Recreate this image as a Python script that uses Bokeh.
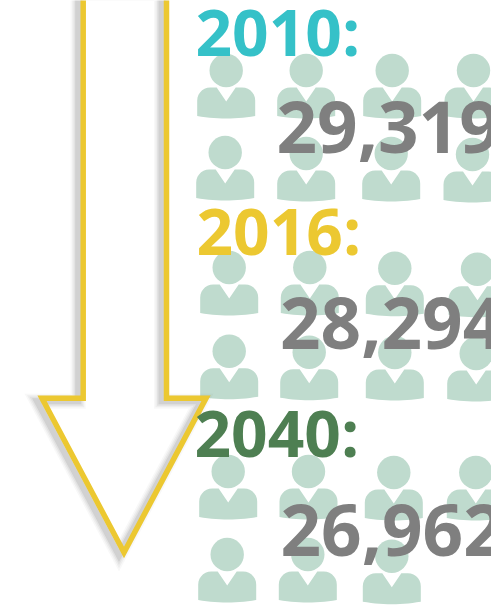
from bokeh.plotting import figure
from bokeh.embed import file_html
from bokeh.resources import INLINE
from bokeh.models import Range1d, ColumnDataSource
from bokeh.core.properties import value
import numpy as np

years = ["2010:", "2016:", "2040:"]
people = ["29,319", "28,294", "26,962"]
year_colors = ["#35C1C8", "#ECC831", "#4E7F52"]
head_x = [225.7, 305.7, 391.7, 473, 224.7, 305.7, 390.7, 472,
          228.7, 309.3, 394.3, 477, 228.7, 308.7, 394.3, 475.7,
          227.7, 308, 393.3, 475.3, 226.7, 307.3, 391.3]
head_y = [70, 70, 70, 70, 152, 153, 153, 154,
          267, 267, 267.7, 268.7, 350.7, 351.7, 352, 353,
          471, 471, 472, 472, 554, 554, 555.7]
label_x = [195, 196, 194]
label_y = [74, 273, 475]
count_x = [276, 279.5, 280]
count_y = [152.5, 348, 555.5]

arrow_x = [82.7, 82.7, 41.5, 123.5, 205.5, 166, 166]
arrow_y = [-10, 397.7, 397.7, 552, 397.7, 397.7, -10]

W, H = 491, 605
p = figure(width=W, height=H, output_backend="svg", toolbar_location=None,
           x_range=Range1d(0, W), y_range=Range1d(H, 0), min_border=0,
           outline_line_color=None, background_fill_color=None,
           border_fill_color=None)
p.axis.visible = False
p.grid.visible = False
p.styles = {"position": "fixed", "left": "0", "top": "0"}

def body(cx, cy):
    xs, ys = [], []
    hw, top = 29, cy + 17
    r = 13
    for a in np.linspace(180, 270, 8):
        xs.append(cx - hw + r + r * np.cos(np.radians(a)))
        ys.append(top + r + r * np.sin(np.radians(a)))
    xs += [cx - 9.5, cx, cx + 9.5]
    ys += [top, top + 14, top]
    for a in np.linspace(270, 360, 8):
        xs.append(cx + hw - r + r * np.cos(np.radians(a)))
        ys.append(top + r + r * np.sin(np.radians(a)))
    for t in np.linspace(1, -1, 15):
        xs.append(cx + hw * t)
        ys.append(cy + 45.5 + 2.5 * (1 - t * t))
    return xs, ys

bx, by = zip(*[body(x, y) for x, y in zip(head_x, head_y)])
p.patches(list(bx), list(by), fill_color="#BFDBCE", line_color=None)
p.circle(head_x, head_y, radius=16.7, fill_color="#BFDBCE", line_color=None)

# soft shadow built from stacked translucent strokes; the arrow itself is hollow
sx = [v - 5 for v in arrow_x] + [arrow_x[0] - 5]
sy = [v + 3 for v in arrow_y] + [arrow_y[0] + 3]
for w, a in [(15, 0.04), (12, 0.06), (9, 0.08), (6, 0.12)]:
    p.line(sx, sy, line_color="#555555", line_alpha=a, line_width=w, line_join="miter")
p.line(arrow_x + [arrow_x[0]], arrow_y + [arrow_y[0]], line_color="#ECC831", line_width=5.5, line_join="miter")

src = ColumnDataSource(dict(x=label_x, y=label_y, t=years, c=year_colors))
p.text("x", "y", text="t", text_color="c", source=src, text_font=value("Open Sans"),
       text_font_size="64px", text_font_style="bold", text_baseline="bottom")
src2 = ColumnDataSource(dict(x=count_x, y=count_y, t=people))
p.text("x", "y", text="t", text_color="#7F7F7F", source=src2, text_font=value("Open Sans"),
       text_font_size="71px", text_font_style="bold", text_baseline="bottom")

open("out.html", "w").write(file_html(p, INLINE))
